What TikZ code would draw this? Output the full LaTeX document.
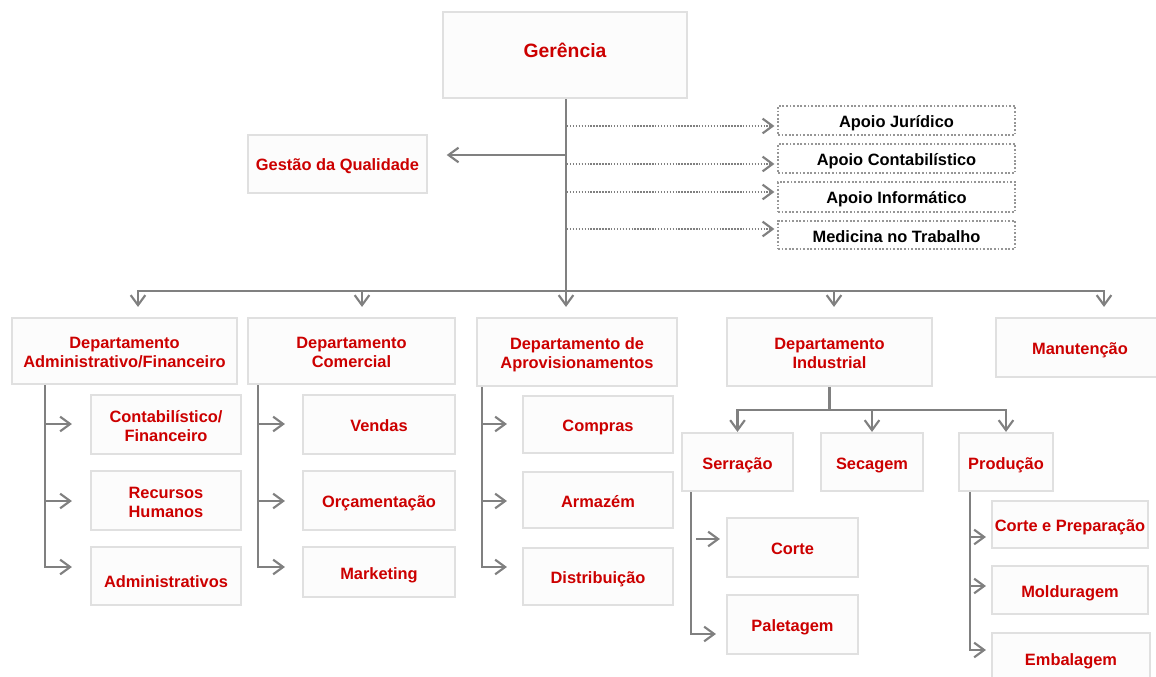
\documentclass[tikz,border=0pt]{standalone}
\usepackage{fontspec}
\setmainfont{Liberation Sans}
\usetikzlibrary{arrows.meta}
\definecolor{tred}{RGB}{204,0,0}
\definecolor{lgray}{RGB}{128,128,128}
\definecolor{bgray}{RGB}{224,224,224}
\definecolor{bfill}{RGB}{252,252,252}
\definecolor{dgray}{RGB}{150,150,150}
\newcommand{\txtlow}{-2.4pt}
\newcommand{\orgbox}[7][]{\node[box,#1,minimum width={(#5-#3)*0.75pt},minimum height={(#6-#4)*0.75pt}] (#2) at ({(#3+#5)/2},{(#4+#6)/2}) {\raisebox{\txtlow}[\height][\depth]{\begin{tabular}{@{}c@{}}#7\end{tabular}}};}
\newcommand{\shifttxt}[2]{\raisebox{#1}[\height][\depth]{#2}}
\begin{document}
\begin{tikzpicture}[x=0.75pt,y=-0.75pt,
  box/.style={draw=bgray, line width=1.6pt, fill=bfill, text=tred,
    font=\bfseries\fontsize{12.3}{14.25}\selectfont, inner sep=0pt},
  apoio/.style={draw=dgray, line width=1.4pt, dash pattern=on 1.4pt off 1.3pt,
    fill=white, text=black},
  conn/.style={draw=lgray, line width=1.6pt},
  bus/.style={conn, line cap=rect},
  arr/.style={conn, -{Straight Barb[length=7.5pt,width=11pt]}},
  dotarr/.style={draw=lgray, line width=1.1pt, dash pattern=on 1.1pt off 1.1pt,
    -{Straight Barb[length=7.5pt,width=11pt,line width=1.6pt]}}
]
\fill[white] (0,0) rectangle (1156,677);
\useasboundingbox (0,0) rectangle (1156,677);

% nodes
\orgbox{ger}{443}{12}{687}{98}{\fontsize{14.5}{16}\selectfont\shifttxt{3.8pt}{Gerência}}
\orgbox{gq}{248}{135}{427}{193}{Gestão da Qualidade}
\orgbox[apoio]{aj}{778}{106}{1015}{135}{Apoio Jurídico}
\orgbox[apoio]{ac}{778}{144}{1015}{173}{Apoio Contabilístico}
\orgbox[apoio]{ai}{778}{182}{1015}{212}{Apoio Informático}
\orgbox[apoio]{am}{778}{221}{1015}{249}{Medicina no Trabalho}

\orgbox{dadm}{12}{318}{237}{384}{Departamento\\Administrativo/Financeiro}
\orgbox{dcom}{248}{318}{455}{384}{Departamento\\Comercial}
\orgbox{dapr}{477}{318}{677}{386}{Departamento de\\Aprovisionamentos}
\orgbox{dind}{727}{318}{932}{386}{Departamento\\Industrial}
\orgbox{dman}{996}{318}{1164}{377}{Manutenção}

\orgbox{cf}{91}{395}{241}{454}{Contabilístico/\\Financeiro}
\orgbox{rh}{91}{471}{241}{530}{Recursos\\Humanos}
\orgbox{adm}{91}{547}{241}{605}{\shifttxt{-3.6pt}{Administrativos}}

\orgbox{ven}{303}{395}{455}{454}{Vendas}
\orgbox{orc}{303}{471}{455}{530}{Orçamentação}
\orgbox{mkt}{303}{547}{455}{597}{Marketing}

\orgbox{com}{523}{396}{673}{453}{Compras}
\orgbox{arm}{523}{472}{673}{528}{Armazém}
\orgbox{dis}{523}{548}{673}{605}{Distribuição}

\orgbox{ser}{682}{433}{793}{491}{Serração}
\orgbox{sec}{821}{433}{923}{491}{Secagem}
\orgbox{pro}{959}{433}{1053}{491}{Produção}
\orgbox{cor}{727}{518}{858}{577}{Corte}
\orgbox{pal}{727}{595}{858}{654}{Paletagem}
\orgbox{cep}{992}{501}{1148}{548}{Corte e Preparação}
\orgbox{mol}{992}{566}{1148}{614}{Molduragem}
\orgbox{emb}{992}{633}{1150}{684}{Embalagem}

% trunk and main bus
\coordinate (b1) at (138,291);
\coordinate (b2) at (362,291);
\coordinate (b3) at (566,291);
\coordinate (b4) at (834,291);
\coordinate (b5) at (1104,291);
\draw[conn] (ger.south -| b3) -- (b3);
\draw[bus] (b1) -- (b5);
\draw[arr, shorten >=7.5pt] (b1) -- (b1 |- dadm.north);
\draw[arr, shorten >=7.5pt] (b2) -- (b2 |- dcom.north);
\draw[arr, shorten >=7.5pt] (b3) -- (b3 |- dapr.north);
\draw[arr, shorten >=7.5pt] (b4) -- (b4 |- dind.north);
\draw[arr, shorten >=7.5pt] (b5) -- (b5 |- dman.north);

% quality
\coordinate (tg) at (566,155);
\draw[arr, shorten >=14pt] (tg) -- (tg -| gq.east);

% support (dotted)
\coordinate (t1) at (567,126);
\coordinate (t2) at (567,164);
\coordinate (t3) at (567,192);
\coordinate (t4) at (567,229);
\draw[dotarr, shorten >=2pt] (t1) -- (t1 -| aj.west);
\draw[dotarr, shorten >=2pt] (t2) -- (t2 -| ac.west);
\draw[dotarr, shorten >=2pt] (t3) -- (t3 -| ai.west);
\draw[dotarr, shorten >=2pt] (t4) -- (t4 -| am.west);

% admin branch
\coordinate (a1) at (45,424);
\coordinate (a2) at (45,501);
\coordinate (a3) at (45,567);
\draw[arr, shorten >=13.5pt] (dadm.south -| a1) -- (a3) -- (a3 -| adm.west);
\draw[arr, shorten >=13.5pt] (a1) -- (a1 -| cf.west);
\draw[arr, shorten >=13.5pt] (a2) -- (a2 -| rh.west);

% comercial branch
\coordinate (c1) at (258,424);
\coordinate (c2) at (258,501);
\coordinate (c3) at (258,567);
\draw[arr, shorten >=12.75pt] (dcom.south -| c1) -- (c3) -- (c3 -| mkt.west);
\draw[arr, shorten >=12.75pt] (c1) -- (c1 -| ven.west);
\draw[arr, shorten >=12.75pt] (c2) -- (c2 -| orc.west);

% aprovisionamentos branch
\coordinate (p1) at (482,424);
\coordinate (p2) at (482,501);
\coordinate (p3) at (482,567);
\draw[arr, shorten >=11.25pt] (dapr.south -| p1) -- (p3) -- (p3 -| dis.west);
\draw[arr, shorten >=11.25pt] (p1) -- (p1 -| com.west);
\draw[arr, shorten >=11.25pt] (p2) -- (p2 -| arm.west);

% industrial
\coordinate (s1) at (737.5,410);
\coordinate (s2) at (872,410);
\coordinate (s3) at (1006,410);
\draw[conn] (dind.south) -- (dind.south |- s1);
\draw[bus] (s1) -- (s3);
\draw[arr] (s1) -- (ser.north);
\draw[arr] (s2) -- (sec.north);
\draw[arr] (s3) -- (pro.north);

% serracao
\coordinate (sv) at (691,634);
\coordinate (sc) at (696,539);
\draw[arr, shorten >=7.5pt] (ser.south -| sv) -- (sv) -- (sv -| pal.west);
\draw[arr, shorten >=4.5pt] (sc) -- (sc -| cor.west);

% producao
\coordinate (r1) at (970,537);
\coordinate (r2) at (970,586);
\coordinate (r3) at (970,650);
\draw[arr, shorten >=3.75pt] (pro.south -| r1) -- (r3) -- (r3 -| emb.west);
\draw[arr, shorten >=3.75pt] (r1) -- (r1 -| cep.west);
\draw[arr, shorten >=3.75pt] (r2) -- (r2 -| mol.west);
\end{tikzpicture}
\end{document}
